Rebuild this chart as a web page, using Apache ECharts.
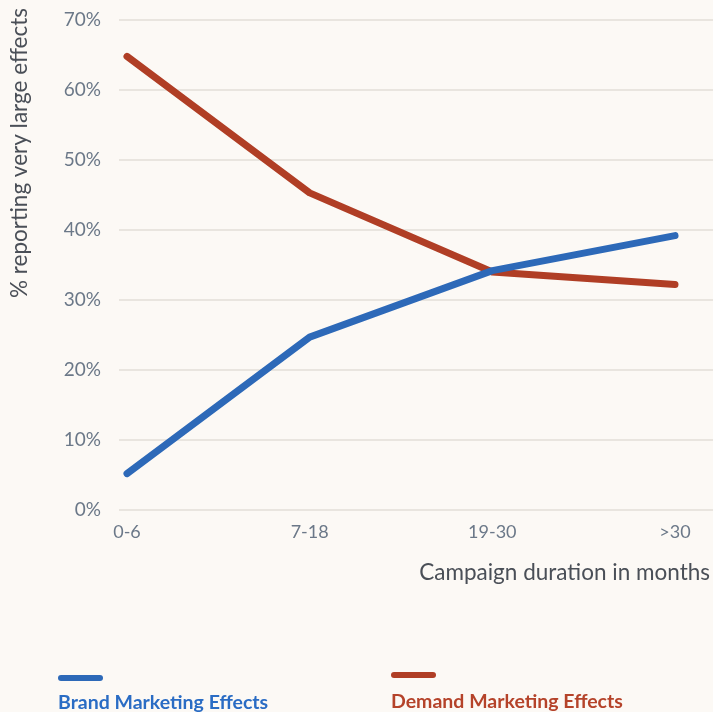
<!DOCTYPE html>
<html><head><meta charset="utf-8">
<script src="https://cdn.jsdelivr.net/npm/echarts@6/dist/echarts.min.js"></script>
<style>html,body{margin:0;padding:0;background:#fcf9f5}#c{width:713px;height:712px}</style>
</head><body><div id="c"></div>
<script>
const categories = ['0-6', '7-18', '19-30', '>30'];
const brandValues = [5.2, 24.7, 34.2, 39.2];
const demandValues = [64.8, 45.3, 34.0, 32.2];
const yTicks = [0, 10, 20, 30, 40, 50, 60, 70];
const seriesNames = ['Brand Marketing Effects', 'Demand Marketing Effects'];
const colors = ['#2d69b8', '#b03e25'];
const FONT = 'Lato';

const chart = echarts.init(document.getElementById('c'));
chart.setOption({
  backgroundColor: '#fcf9f5',
  animation: false,
  grid: [
    {left: 127, right: 38, top: 20, bottom: 202},
    {left: 110, right: 0, top: 20, bottom: 202}
  ],
  xAxis: [
    {type: 'category', gridIndex: 0, data: categories, boundaryGap: false,
     axisLine: {show: false}, axisTick: {show: false},
     axisLabel: {color: '#6b7888', fontSize: 18, fontFamily: FONT, margin: 13},
     name: 'Campaign duration in months', nameLocation: 'end', nameGap: 35,
     nameTextStyle: {color: '#4a4f57', fontSize: 22.5, fontFamily: FONT, align: 'right', verticalAlign: 'top', padding: [51, 0, 0, 0]}},
    {type: 'category', gridIndex: 1, data: categories, show: false}
  ],
  yAxis: [
    {type: 'value', gridIndex: 0, min: yTicks[0], max: yTicks[yTicks.length - 1], interval: 10,
     axisLine: {show: false}, axisTick: {show: false}, splitLine: {show: false},
     axisLabel: {show: false}},
    {type: 'value', gridIndex: 1, min: yTicks[0], max: yTicks[yTicks.length - 1], interval: 10,
     axisLine: {show: false}, axisTick: {show: false},
     splitLine: {show: true, lineStyle: {color: '#e9e5df', width: 2}},
     axisLabel: {color: '#6b7888', fontSize: 19, fontFamily: FONT, margin: 18, formatter: '{value}%'},
     name: '% reporting very large effects', nameLocation: 'middle', nameGap: 88,
     nameTextStyle: {color: '#4a4f57', fontSize: 22.5, fontFamily: FONT, padding: [0, 0, 0, 224]}}
  ],
  series: [
    {name: seriesNames[0], type: 'line', xAxisIndex: 0, yAxisIndex: 0, data: brandValues,
     symbol: 'none', lineStyle: {color: colors[0], width: 7, cap: 'round', join: 'round'}, z: 3},
    {name: seriesNames[1], type: 'line', xAxisIndex: 0, yAxisIndex: 0, data: demandValues,
     symbol: 'none', lineStyle: {color: colors[1], width: 7, cap: 'round', join: 'round'}, z: 2}
  ],
  graphic: [
    {type: 'line', shape: {x1: 61, y1: 678, x2: 100, y2: 678}, style: {stroke: colors[0], lineWidth: 6, lineCap: 'round'}},
    {type: 'line', shape: {x1: 394, y1: 675, x2: 433, y2: 675}, style: {stroke: colors[1], lineWidth: 6, lineCap: 'round'}},
    {type: 'text', left: 58, top: 693, style: {text: seriesNames[0], fill: '#2a6cc4', font: 'bold 19.5px ' + FONT}},
    {type: 'text', left: 391, top: 692, style: {text: seriesNames[1], fill: '#b5432a', font: 'bold 19.5px ' + FONT}}
  ]
});
</script></body></html>
